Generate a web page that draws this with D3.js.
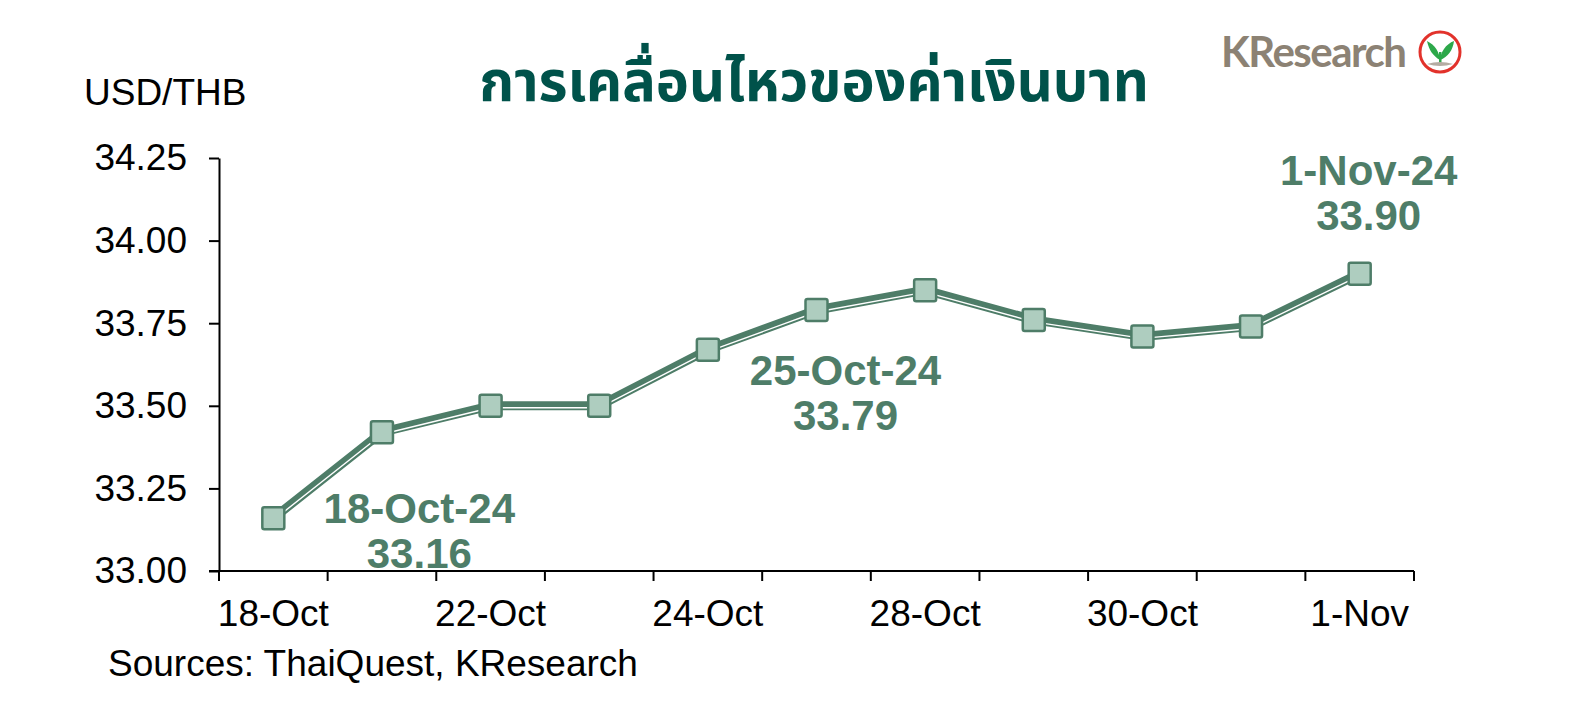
<!DOCTYPE html>
<html><head><meta charset="utf-8">
<script src="https://cdn.jsdelivr.net/npm/d3@7"></script>
<style>body{margin:0;background:#fff}svg{display:block}</style>
</head><body>
<svg id="c" width="1577" height="720"></svg>
<script>
const categories = ["18-Oct","21-Oct","22-Oct","23-Oct","24-Oct","25-Oct","28-Oct","29-Oct","30-Oct","31-Oct","1-Nov"];
const values = [33.16,33.42,33.50,33.50,33.67,33.79,33.85,33.76,33.71,33.74,33.90];
const shownXLabels = ["18-Oct","22-Oct","24-Oct","28-Oct","30-Oct","1-Nov"];
const yTicks = [33.00,33.25,33.50,33.75,34.00,34.25];
const annotations = [
  {cat:"18-Oct", label:"18-Oct-24", value:"33.16"},
  {cat:"25-Oct", label:"25-Oct-24", value:"33.79"},
  {cat:"1-Nov", label:"1-Nov-24", value:"33.90"}
];
const title = "การเคลื่อนไหวของค่าเงินบาท";

const svg = d3.select("#c");
const green = "#4E7D68", markerFill = "#AECDBF", titleColor = "#00524A";
const font = "Liberation Sans, Arial, sans-serif";

const x = d3.scaleBand().domain(categories).range([219,1414]).padding(0);
const y = d3.scaleLinear().domain([33,34.25]).range([571,158]);
const cx = d => x(d) + x.bandwidth()/2;

// Y axis
const ya = svg.append("g").attr("transform","translate(219,0)")
  .call(d3.axisLeft(y).tickValues(yTicks).tickFormat(d3.format(".2f")).tickSize(10).tickSizeOuter(0).tickPadding(22));
ya.select(".domain").attr("stroke","#000").attr("stroke-width",2);
ya.selectAll(".tick line").attr("stroke","#000").attr("stroke-width",2);
ya.selectAll("text").attr("font-family",font).attr("font-size",37).attr("fill","#000");

// X axis
const xa = svg.append("g").attr("transform","translate(0,571)")
  .call(d3.axisBottom(x).tickSize(0).tickSizeOuter(0).tickPadding(29)
    .tickFormat(d => shownXLabels.includes(d) ? d : ""));
xa.select(".domain").remove();
xa.selectAll("text").attr("font-family",font).attr("font-size",37).attr("fill","#000");
svg.append("line").attr("x1",209).attr("x2",1414).attr("y1",571).attr("y2",571)
  .attr("stroke","#000").attr("stroke-width",2);
const bounds = categories.map(d => x(d)).concat([x.range()[1]]);
svg.append("g").selectAll("line").data(bounds).join("line")
  .attr("x1",d=>d).attr("x2",d=>d).attr("y1",571).attr("y2",581)
  .attr("stroke","#000").attr("stroke-width",2);

// Line
const line = d3.line().x((d,i)=>cx(categories[i])).y(d=>y(d));
svg.append("path").datum(values).attr("d",line).attr("fill","none")
  .attr("stroke",green).attr("stroke-width",9).attr("stroke-linejoin","round");
svg.append("path").datum(values).attr("d",line).attr("fill","none")
  .attr("transform","translate(0,2)")
  .attr("stroke","#fff").attr("stroke-width",1.4).attr("stroke-linejoin","round");

// Markers
svg.append("g").selectAll("rect").data(values).join("rect")
  .attr("x",(d,i)=>cx(categories[i])-11).attr("y",d=>y(d)-11)
  .attr("width",22).attr("height",22).attr("rx",2)
  .attr("fill",markerFill).attr("stroke",green).attr("stroke-width",2.5);

// Annotations
const annOffsets = {"18-Oct":[146,5,50], "25-Oct":[29,75,120], "1-Nov":[9,-89,-44]};
annotations.forEach(a => {
  const i = categories.indexOf(a.cat);
  const px = cx(a.cat), py = y(values[i]);
  const o = annOffsets[a.cat];
  svg.append("text").attr("x",px+o[0]).attr("y",py+o[1]).attr("text-anchor","middle")
    .attr("font-family",font).attr("font-weight","bold").attr("font-size",42).attr("fill",green).text(a.label);
  svg.append("text").attr("x",px+o[0]).attr("y",py+o[2]).attr("text-anchor","middle")
    .attr("font-family",font).attr("font-weight","bold").attr("font-size",42).attr("fill",green).text(a.value);
});

// Titles and texts
svg.append("text").attr("x",84).attr("y",105).attr("font-family",font).attr("font-size",37).attr("fill","#000").text("USD/THB");
svg.append("text").attr("x",814).attr("y",101).attr("text-anchor","middle")
  .attr("font-family","'Noto Sans Thai','Noto Sans Thai Looped','Noto Sans',sans-serif").attr("font-weight","bold")
  .attr("font-size",56).attr("fill",titleColor).text(title);
svg.append("text").attr("x",108).attr("y",676).attr("font-family",font).attr("font-size",37).attr("fill","#000").text("Sources: ThaiQuest, KResearch");

// Logo
const logo = svg.append("g");
logo.append("text").attr("x",1221).attr("y",67).attr("font-family","Lato, 'Open Sans', sans-serif").attr("font-weight","bold")
  .attr("font-size",42).attr("fill","#8C8274").attr("letter-spacing",-1.5).text("KResearch");
logo.append("circle").attr("cx",1440).attr("cy",52).attr("r",20).attr("fill","#fff").attr("stroke","#E2322B").attr("stroke-width",3);
logo.append("path").attr("d","M1440,62 C1440,52 1435,45 1427,41 C1429,50 1433,56 1440,60 Z").attr("fill","#2DA84A");
logo.append("path").attr("d","M1440,62 C1440,52 1446,44 1454,41 C1453,50 1448,57 1440,60 Z").attr("fill","#2DA84A");
logo.append("rect").attr("x",1439).attr("y",52).attr("width",2.5).attr("height",12).attr("fill","#2DA84A");
logo.append("path").attr("d","M1427,64 Q1440,60 1453,64 Q1440,68 1427,64 Z").attr("fill","#B5ACA3");
</script>
</body></html>
